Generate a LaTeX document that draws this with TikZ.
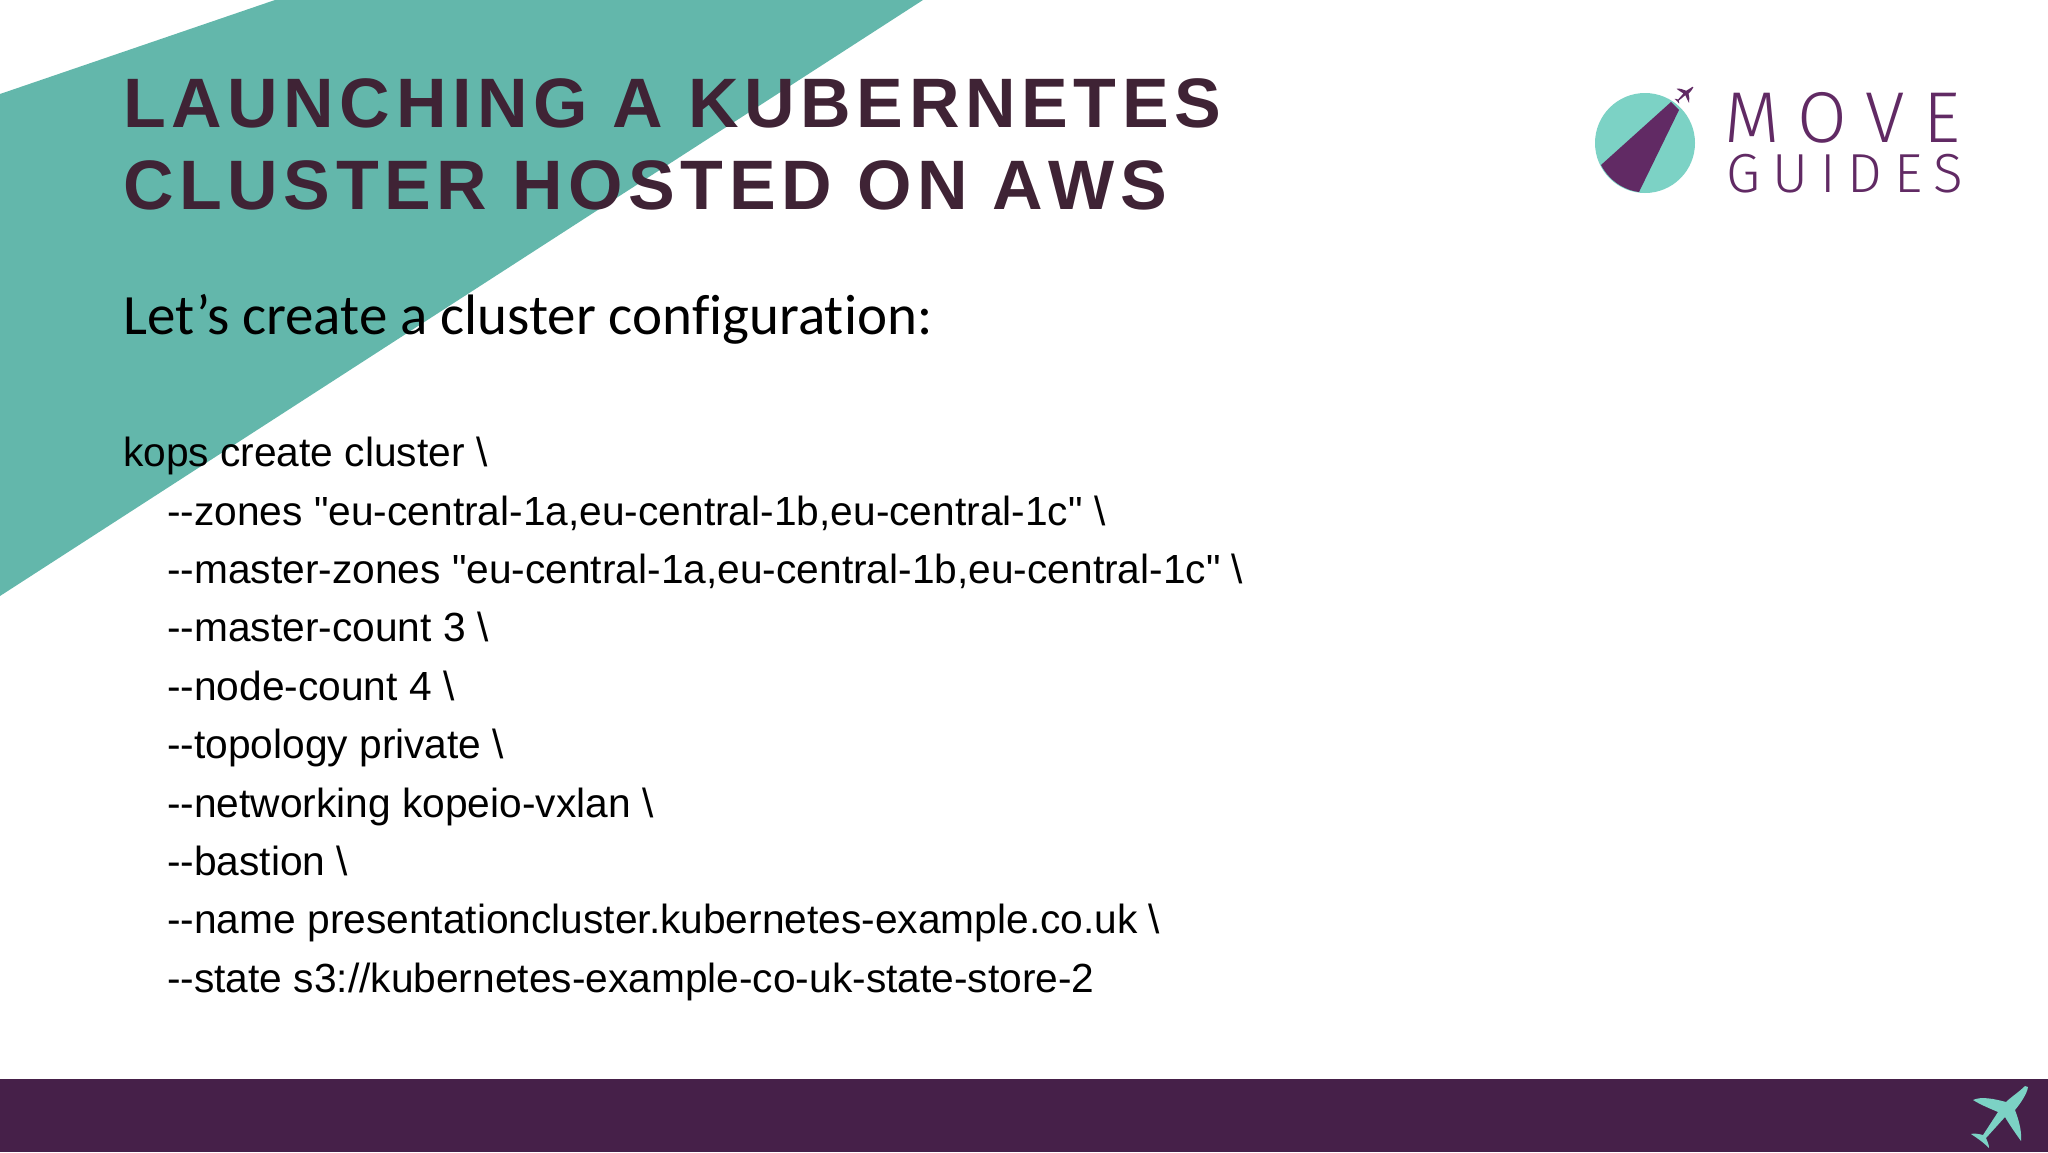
\documentclass[tikz,border=0pt]{standalone}
\usepackage{fontspec}
\usepackage{tikz}
\usetikzlibrary{positioning}

\newfontfamily\titlefont[LetterSpace=8,Kerning=Off]{Liberation Sans Bold}
\newfontfamily\bodyfont{Liberation Sans}
\newfontfamily\leadfont[Ligatures=NoCommon]{Carlito}
\newfontfamily\logofont[LetterSpace=25.8]{Fira Sans Light}
\newfontfamily\logosubfont[LetterSpace=21.8]{Fira Sans Light}

\definecolor{tealband}{HTML}{63B7AB}
\definecolor{tealplane}{HTML}{7CD2C5}
\definecolor{plumband}{HTML}{462049}
\definecolor{plumlogo}{HTML}{612A64}
\definecolor{plumtitle}{HTML}{3F2335}

% the plane, drawn round its wing joint
\newcommand{\planepath}{
  (22,-24) .. controls (16,-18) and (8,-13) .. (3,-8)
  .. controls (-8,-11) and (-22,-14) .. (-30,-10)
  .. controls (-22,-5) and (-12,-1) .. (-5,2)
  -- (-20,25) .. controls (-24,24) and (-29,23) .. (-32,24)
  .. controls (-26,28) and (-20,32) .. (-14,38)
  .. controls (-14,34) and (-16,31) .. (-17,28)
  -- (2,7) .. controls (6,14) and (13,24) .. (18,31)
  .. controls (19,20) and (15,8) .. (12,0)
  .. controls (17,-6) and (24,-16) .. (25,-23) -- cycle
}

\begin{document}
\begin{tikzpicture}[x=1pt, y=-1pt,
    titletext/.style={anchor=base west, inner sep=0pt, text=plumtitle, font=\titlefont\fontsize{70}{70}\selectfont},
    leadtext/.style={anchor=base west, inner sep=0pt, text=black, font=\leadfont\fontsize{57}{57}\selectfont},
    codetext/.style={anchor=base west, inner sep=0pt, text=black, font=\bodyfont\fontsize{40.7}{40.7}\selectfont},
    logotext/.style={anchor=base west, inner sep=0pt, text=plumlogo}
    ]
    \useasboundingbox (0,0) rectangle (2048,1152);

    % backdrop
    \fill[tealband] (0,94) -- (275,0) -- (923,0) -- (0,596) -- cycle;
    \fill[plumband] (0,1079) rectangle (2048,1152);
    \fill[tealplane, shift={(2003,1110)}] \planepath;

    % logo
    \fill[tealplane] (1645,143) circle (50);
    \fill[plumlogo] (1671,102) -- (1679,110) -- (1639,192)
      .. controls (1623,190) and (1609,180) .. (1601,165) -- cycle;
    \fill[plumlogo, shift={(1685,93)}, rotate=-8, scale=0.3] \planepath;
    \node[logotext, font=\logofont\fontsize{72}{72}\selectfont] (move) at (1724,142) {MOVE};
    \node[logotext, font=\logosubfont\fontsize{55}{55}\selectfont] (guides) at (1726,192) {GUIDES};

    % heading
    \node[titletext] (title1) at (123,127) {LAUNCHING A KUBERNETES};
    \node[titletext] (title2) at (123,209) {CLUSTER HOSTED ON AWS};
    \node[leadtext] (lead) at (123,334) {Let’s create a cluster configuration:};

    % command
    \node[codetext] (kops) at (123,466.6) {kops create cluster \textbackslash};
    \node[codetext] (zones) at (167,525) {--zones "eu-central-1a,eu-central-1b,eu-central-1c" \textbackslash};
    \node[codetext] (masterzones) at (167,583.4) {--master-zones "eu-central-1a,eu-central-1b,eu-central-1c" \textbackslash};
    \node[codetext] (mastercount) at (167,641.8) {--master-count 3 \textbackslash};
    \node[codetext] (nodecount) at (167,700.2) {--node-count 4 \textbackslash};
    \node[codetext] (topology) at (167,758.6) {--topology private \textbackslash};
    \node[codetext] (networking) at (167,817) {--networking kopeio-vxlan \textbackslash};
    \node[codetext] (bastion) at (167,875.4) {--bastion \textbackslash};
    \node[codetext] (name) at (167,933.8) {--name presentationcluster.kubernetes-example.co.uk \textbackslash};
    \node[codetext] (state) at (167,992.2) {--state s3://kubernetes-example-co-uk-state-store-2};
  \end{tikzpicture}
\end{document}
